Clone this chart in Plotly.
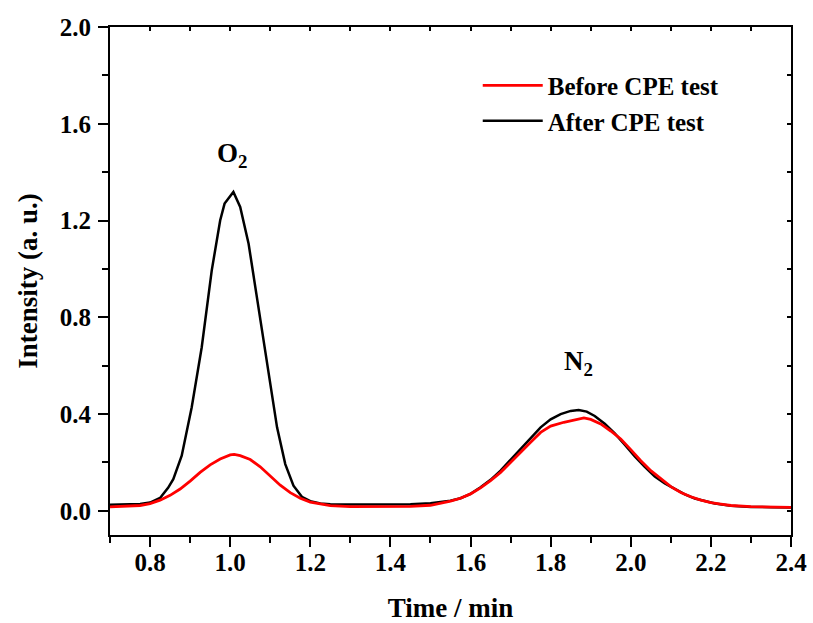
import plotly.graph_objects as go

# After CPE test (black)
after_x = [0.70, 0.75, 0.775, 0.80, 0.825, 0.845, 0.858, 0.879, 0.904, 0.929, 0.954, 0.975, 0.986,
           1.008, 1.025, 1.046, 1.071, 1.096, 1.117, 1.1375, 1.158, 1.179, 1.20, 1.225, 1.25, 1.30,
           1.35, 1.40, 1.45, 1.50, 1.525, 1.55, 1.575, 1.60, 1.625, 1.65, 1.675, 1.70, 1.725, 1.75,
           1.775, 1.80, 1.825, 1.85, 1.87, 1.89, 1.91, 1.935, 1.96, 1.985, 2.01, 2.035, 2.06, 2.085,
           2.11, 2.135, 2.16, 2.185, 2.21, 2.25, 2.30, 2.35, 2.40]
after_y = [0.025, 0.026, 0.028, 0.034, 0.053, 0.095, 0.131, 0.228, 0.428, 0.676, 0.994, 1.20, 1.27,
           1.318, 1.256, 1.104, 0.842, 0.566, 0.345, 0.193, 0.104, 0.058, 0.040, 0.030, 0.027, 0.026,
           0.026, 0.026, 0.027, 0.031, 0.035, 0.042, 0.052, 0.070, 0.097, 0.128, 0.166, 0.210, 0.255, 0.300,
           0.345, 0.378, 0.400, 0.413, 0.417, 0.410, 0.392, 0.360, 0.320, 0.273, 0.225, 0.182, 0.142, 0.113,
           0.089, 0.068, 0.051, 0.039, 0.030, 0.021, 0.016, 0.015, 0.014]

# Before CPE test (red)
before_x = [0.70, 0.75, 0.775, 0.80, 0.825, 0.85, 0.875, 0.90, 0.925, 0.95, 0.975, 1.00, 1.01, 1.025,
            1.05, 1.075, 1.10, 1.125, 1.15, 1.175, 1.20, 1.225, 1.25, 1.30, 1.40, 1.45, 1.50, 1.525,
            1.55, 1.575, 1.60, 1.625, 1.65, 1.675, 1.70, 1.725, 1.75, 1.775, 1.80, 1.833, 1.86, 1.883,
            1.90, 1.925, 1.95, 1.975, 2.00, 2.025, 2.05, 2.075, 2.10, 2.125, 2.15, 2.175, 2.20, 2.225,
            2.25, 2.30, 2.35, 2.40]
before_y = [0.016, 0.018, 0.022, 0.030, 0.044, 0.064, 0.090, 0.123, 0.159, 0.190, 0.214, 0.231, 0.233, 0.228,
            0.212, 0.182, 0.142, 0.106, 0.075, 0.052, 0.036, 0.027, 0.021, 0.017, 0.016, 0.018, 0.023, 0.030,
            0.040, 0.052, 0.070, 0.095, 0.125, 0.159, 0.199, 0.241, 0.283, 0.324, 0.350, 0.366, 0.377, 0.384,
            0.378, 0.359, 0.330, 0.297, 0.253, 0.207, 0.166, 0.131, 0.100, 0.076, 0.058, 0.044, 0.034, 0.028,
            0.022, 0.017, 0.015, 0.014]

peak_labels = ["O<sub>2</sub>", "N<sub>2</sub>"]
peak_label_x = [1.005, 1.87]
peak_label_y = [1.47, 0.61]

FONT = "Liberation Serif"

fig = go.Figure()
fig.add_trace(go.Scatter(x=after_x, y=after_y, mode="lines", name="After CPE test",
                         line=dict(color="black", width=2.5), legendrank=2))
fig.add_trace(go.Scatter(x=before_x, y=before_y, mode="lines", name="Before CPE test",
                         line=dict(color="#ff0000", width=2.8), legendrank=1))
fig.add_trace(go.Scatter(x=[], y=[], xaxis="x2", yaxis="y2", showlegend=False))

for t, xx, yy in zip(peak_labels, peak_label_x, peak_label_y):
    fig.add_annotation(x=xx, y=yy, text=t, showarrow=False,
                       font=dict(family=FONT, size=27, color="black", weight="bold"))

axis_common = dict(showgrid=False, zeroline=False, linecolor="black", linewidth=2,
                   tickcolor="black", tickwidth=2, automargin=False,
                   tickfont=dict(family=FONT, size=25, color="black", weight="bold"))

fig.update_layout(
    width=813, height=623,
    margin=dict(l=110, r=22, t=27, b=88),
    paper_bgcolor="white", plot_bgcolor="white",
    xaxis=dict(range=[0.7, 2.4], tick0=0.8, dtick=0.2, tickformat=".1f",
               ticks="outside", ticklen=10, mirror=True, ticklabelstandoff=-6,
               minor=dict(dtick=0.1, ticks="outside", ticklen=6, tickwidth=2, tickcolor="black"),
               title=dict(text="Time / min", font=dict(family=FONT, size=27, color="black", weight="bold"),
                          standoff=24),
               **axis_common),
    yaxis=dict(range=[-0.1, 2.0], tick0=0, dtick=0.4, tickformat=".1f",
               ticks="outside", ticklen=10, mirror=True, ticklabelstandoff=2,
               minor=dict(dtick=0.2, ticks="outside", ticklen=6, tickwidth=2, tickcolor="black"),
               title=dict(text="Intensity (a. u.)", font=dict(family=FONT, size=27, color="black", weight="bold"),
                          standoff=14),
               **axis_common),
    xaxis2=dict(range=[0.7, 2.4], overlaying="x", side="top", anchor="y", tick0=0.8, dtick=0.2,
                ticks="inside", ticklen=4, tickwidth=2, tickcolor="black", showticklabels=False,
                showgrid=False, zeroline=False, showline=False, automargin=False,
                minor=dict(dtick=0.1, ticks="inside", ticklen=4, tickwidth=2, tickcolor="black")),
    yaxis2=dict(range=[-0.1, 2.0], overlaying="y", side="right", anchor="x", tick0=0, dtick=0.4,
                ticks="inside", ticklen=4, tickwidth=2, tickcolor="black", showticklabels=False,
                showgrid=False, zeroline=False, showline=False, automargin=False,
                minor=dict(dtick=0.2, ticks="inside", ticklen=4, tickwidth=2, tickcolor="black")),
    legend=dict(x=0.54, y=0.93, xanchor="left", yanchor="top", bgcolor="rgba(0,0,0,0)",
                font=dict(family=FONT, size=25, color="black", weight="bold"),
                itemwidth=60, tracegroupgap=0),
    showlegend=True,
)

fig.write_html("out.html")
